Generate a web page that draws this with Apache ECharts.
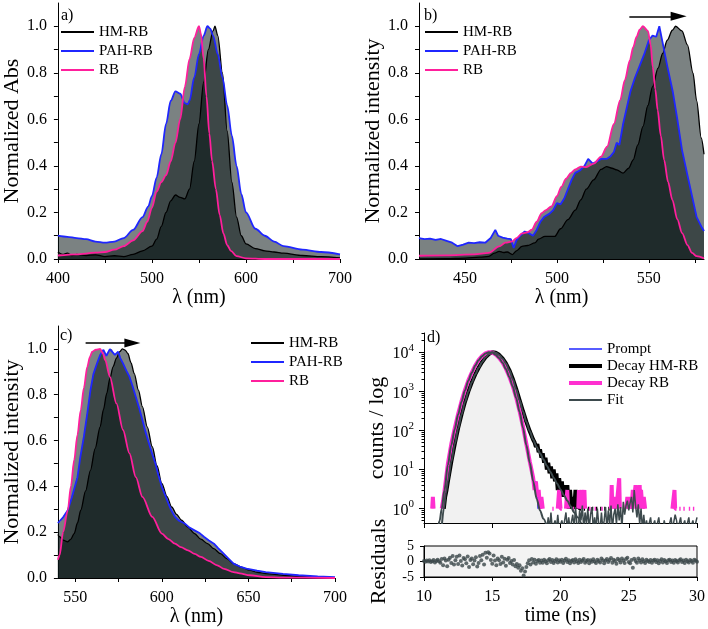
<!DOCTYPE html>
<html>
<head>
<meta charset="utf-8">
<script src="https://cdn.jsdelivr.net/npm/echarts@6/dist/echarts.min.js"></script>
<style>html,body{margin:0;padding:0;background:#fff}#c{width:708px;height:629px}</style>
</head>
<body>
<div id="c"></div>
<script>
// ---------- Panel a: normalized absorbance ----------
const absHM = [[400,0.03],[405,0.02],[410,0.025],[415,0.015],[420,0.02],[430,0.015],[440,0.018],[450,0.01],[460,0.014],[470,0.01],[480,0.02],[490,0.035],[500,0.055],[505,0.085],[510,0.14],[515,0.2],[520,0.25],[525,0.275],[530,0.265],[535,0.258],[540,0.3],[545,0.42],[550,0.58],[555,0.76],[560,0.9],[565,0.98],[567,1.0],[570,0.96],[575,0.8],[580,0.55],[585,0.33],[590,0.18],[595,0.1],[600,0.065],[610,0.045],[620,0.035],[630,0.03],[640,0.025],[660,0.015],[680,0.01],[700,0.005]];
const absPAH = [[400,0.1],[410,0.095],[420,0.09],[430,0.085],[440,0.075],[450,0.07],[460,0.075],[470,0.09],[480,0.125],[490,0.18],[496,0.225],[500,0.27],[505,0.35],[510,0.45],[515,0.58],[520,0.68],[525,0.72],[530,0.71],[535,0.67],[538,0.665],[540,0.68],[545,0.78],[550,0.88],[555,0.96],[559,1.0],[562,0.99],[565,0.96],[570,0.88],[575,0.78],[580,0.66],[585,0.53],[590,0.4],[595,0.28],[600,0.2],[610,0.13],[620,0.1],[630,0.075],[640,0.055],[660,0.04],[680,0.03],[700,0.02]];
const absRB = [[400,0.015],[420,0.02],[440,0.027],[450,0.03],[460,0.04],[470,0.055],[480,0.08],[490,0.12],[495,0.16],[500,0.22],[505,0.29],[510,0.33],[515,0.36],[520,0.42],[525,0.5],[530,0.6],[535,0.74],[540,0.86],[545,0.95],[550,1.0],[552,0.97],[555,0.86],[558,0.7],[561,0.54],[564,0.42],[568,0.3],[572,0.19],[576,0.11],[580,0.06],[584,0.035],[590,0.012],[600,0.003],[620,0.0],[650,0.0],[700,0.0]];

// ---------- Panel b: emission ----------
const emB_HM = [[425,0.0],[440,0.002],[450,0.004],[458,0.008],[463,0.011],[466,0.025],[468.6,0.033],[471,0.028],[473,0.03],[475.8,0.019],[478,0.035],[481,0.054],[484,0.058],[488,0.069],[490,0.085],[493.5,0.097],[498.8,0.097],[502,0.13],[506,0.169],[510,0.21],[513,0.254],[516,0.3],[520,0.34],[524,0.385],[527,0.397],[530,0.39],[532.6,0.383],[536,0.369],[539,0.39],[541.5,0.426],[544,0.49],[546.8,0.569],[549.5,0.66],[552,0.74],[555,0.82],[557.5,0.883],[560,0.94],[562.8,0.983],[564.6,1.0],[568,0.98],[571,0.92],[574,0.8],[576,0.68],[578.5,0.52],[580,0.45]];
const emB_PAH = [[425,0.09],[428,0.085],[431,0.088],[434,0.082],[437,0.086],[440,0.078],[443,0.07],[446,0.055],[449,0.062],[452,0.07],[455,0.068],[458,0.072],[461,0.07],[464,0.09],[466.5,0.125],[468,0.1],[470.5,0.092],[473,0.088],[475,0.085],[476.5,0.047],[478,0.08],[480,0.1],[482.5,0.118],[485,0.11],[487,0.1],[489,0.125],[491,0.16],[493,0.18],[496,0.195],[498,0.21],[500,0.24],[502,0.235],[504,0.26],[506,0.3],[508,0.34],[510,0.37],[512.5,0.38],[515,0.4],[517,0.43],[519.5,0.41],[522,0.42],[524,0.43],[527,0.43],[529,0.44],[531,0.46],[532.5,0.5],[534,0.49],[536,0.58],[538,0.65],[540,0.72],[542.5,0.78],[545,0.83],[547.5,0.88],[550,0.94],[552,0.96],[554,0.955],[555.7,1.0],[557.5,0.93],[560,0.83],[563,0.72],[565.5,0.6],[568,0.47],[571,0.36],[573.5,0.27],[576,0.18],[578.5,0.14],[580,0.12]];
const emB_RB = [[425,0.014],[440,0.016],[455,0.02],[463,0.026],[468.6,0.054],[472,0.07],[475.8,0.076],[478,0.09],[481,0.11],[484,0.115],[486.4,0.126],[489,0.16],[491.7,0.197],[494,0.21],[497,0.226],[500,0.27],[502.4,0.31],[505,0.345],[507.7,0.37],[510,0.385],[513,0.397],[516,0.395],[520,0.41],[524,0.44],[527.3,0.483],[531,0.58],[534.4,0.683],[537,0.77],[539.7,0.854],[541.5,0.91],[543.3,0.954],[545,0.985],[546.8,1.0],[549.5,0.98],[551,0.92],[552.1,0.826],[553.5,0.73],[554.8,0.64],[556.5,0.53],[558.3,0.426],[560.5,0.33],[562.8,0.254],[565.5,0.17],[568.1,0.111],[571,0.06],[573.5,0.026],[576,0.012],[580,0.003]];

// ---------- Panel c: emission ----------
const emC_HM = [[540,0.19],[541,0.18],[543,0.165],[545.7,0.158],[547.5,0.17],[549.4,0.194],[551.3,0.24],[553.2,0.296],[556,0.38],[558.8,0.47],[561.5,0.565],[564.4,0.66],[566.3,0.735],[568.2,0.806],[570,0.87],[571.9,0.923],[573.8,0.96],[575.7,0.988],[577.2,1.0],[578.8,0.995],[580.4,0.98],[582.2,0.94],[584.1,0.892],[586.5,0.82],[588.8,0.748],[591.6,0.66],[594.5,0.573],[597.2,0.49],[600,0.413],[603,0.355],[605.7,0.31],[608.5,0.278],[611.4,0.252],[615,0.222],[618.9,0.194],[622.5,0.17],[626.4,0.15],[630,0.128],[633.9,0.106],[637.5,0.085],[641.4,0.063],[646,0.047],[650.7,0.034],[655,0.025],[660,0.019],[670,0.012],[680,0.007],[690,0.003],[700,0.0]];
const emC_PAH = [[540,0.24],[541,0.245],[543,0.265],[545.7,0.296],[548,0.35],[551.3,0.44],[553,0.53],[555,0.617],[557,0.72],[558.8,0.82],[560.5,0.89],[562.6,0.937],[564.5,0.975],[566.3,0.996],[568,0.97],[570,0.999],[571,1.0],[572.9,0.974],[574.8,0.988],[576,0.96],[577.6,0.937],[579.5,0.905],[581.3,0.879],[583,0.84],[585,0.79],[587,0.74],[588.8,0.69],[590.5,0.64],[592.6,0.587],[594.5,0.54],[596.3,0.5],[598,0.45],[600,0.398],[602,0.36],[603.8,0.325],[605.5,0.295],[607.6,0.267],[610,0.25],[613.2,0.238],[616,0.22],[618.9,0.208],[622,0.195],[624.5,0.179],[627,0.165],[630.1,0.15],[632.5,0.13],[635.7,0.106],[638.5,0.085],[641.4,0.063],[645,0.05],[648.9,0.041],[655,0.032],[660,0.026],[670,0.018],[679,0.012],[690,0.007],[700,0.004]];
const emC_RB = [[540,0.08],[541,0.1],[543,0.2],[545.7,0.296],[547.5,0.4],[549.4,0.515],[551.3,0.625],[553.2,0.733],[555,0.83],[557,0.923],[558.5,0.965],[559.8,0.988],[562,0.997],[564.4,1.0],[566,0.98],[567.3,0.952],[570,0.879],[573.8,0.762],[577.6,0.646],[581.3,0.544],[585,0.44],[588.8,0.354],[594.5,0.267],[600,0.194],[603.8,0.17],[607.6,0.15],[611,0.135],[615.1,0.121],[619,0.105],[622.6,0.092],[627,0.075],[632,0.055],[636,0.04],[641.4,0.026],[645,0.02],[650.7,0.012],[660,0.004],[670,0.002],[700,0.0]];

// ---------- Panel d: decay (counts, log) ----------
const prompt = [[11.35,1],[11.45,2],[11.55,4],[11.75,14],[12.0,42],[12.25,105],[12.5,250],[12.75,540],[13.0,1030],[13.25,1850],[13.5,2950],[13.75,4500],[14.0,6250],[14.25,7900],[14.5,9250],[14.75,10000],[15.0,9750],[15.25,8600],[15.5,7050],[15.75,5350],[16.0,3650],[16.25,2280],[16.5,1300],[16.75,660],[17.0,290],[17.25,115],[17.5,42],[17.75,16],[17.9,9],[18.0,6],[18.1,4],[18.2,5],[18.25,2],[18.3,4],[18.35,1],[18.4,3],[18.45,1],[18.5,2],[18.55,1],[18.6,null],[25.2,1],[25.25,3],[25.3,1]];
const decayHM = [[11.45,1],[11.55,2],[11.65,3],[11.75,5],[12.0,16],[12.25,45],[12.5,115],[12.75,260],[13.0,540],[13.25,1000],[13.5,1700],[13.75,2700],[14.0,4000],[14.25,5600],[14.5,7400],[14.75,9000],[15.0,10000],[15.25,9700],[15.5,8600],[15.75,7000],[16.0,5200],[16.25,3500],[16.5,2100],[16.75,1150],[17.0,600],[17.25,310],[17.5,165],[17.75,95],[18.0,58],[18.1,50],[18.2,38],[18.3,45],[18.4,28],[18.5,33],[18.6,20],[18.7,26],[18.8,15],[18.9,20],[19.0,10],[19.1,15],[19.2,8],[19.3,12],[19.4,6],[19.5,10],[19.6,5],[19.7,8],[19.8,3],[19.9,6],[20.0,3],[20.1,5],[20.2,2],[20.3,4],[20.4,2],[20.5,4],[20.6,1],[20.7,3],[20.8,1],[20.9,2],[21.0,1],[21.1,3],[21.2,1],[21.3,2],[21.4,1],[21.5,1],[21.6,null],[21.7,1],[21.8,1],[21.85,null],[22.0,1],[22.1,1],[22.15,null],[22.3,1],[22.4,1],[22.45,null],[22.6,1],[22.7,1],[22.75,null],[22.9,1],[23.0,1],[23.05,null],[23.2,1],[23.3,1],[23.35,null],[23.5,1],[23.6,1]];
const decayRB = [[10.6,1],[10.65,2],[10.7,1],[10.75,null],[11.3,1],[11.4,1.6],[11.5,2.8],[11.75,14],[12.0,45],[12.25,112],[12.5,263],[12.75,560],[13.0,1070],[13.25,1900],[13.5,3000],[13.75,4570],[14.0,6300],[14.25,7950],[14.5,9300],[14.75,10000],[15.0,9800],[15.25,8700],[15.5,7200],[15.75,5500],[16.0,3800],[16.25,2400],[16.5,1380],[16.75,710],[17.0,316],[17.25,126],[17.5,45],[17.75,16],[17.9,9],[18.0,6],[18.1,3],[18.2,5],[18.3,2],[18.4,3],[18.5,1],[18.6,2],[18.7,1],[18.8,null],[19.4,1],[19.5,1],[19.6,null],[19.8,1],[19.9,3],[20.0,1],[20.1,1],[20.2,null],[20.4,1],[20.5,3],[20.55,1],[20.6,1],[20.7,null],[20.9,1],[21.0,1],[21.1,null],[21.3,1],[21.35,3],[21.4,1],[21.5,1],[21.55,3],[21.6,1],[21.7,1],[21.75,3],[21.8,1],[21.9,null],[22.1,1],[22.2,1],[22.3,null],[22.5,1],[22.6,1],[22.7,null],[23.0,1],[23.1,1],[23.2,null],[23.7,1],[23.75,4],[23.8,1],[23.9,1],[24.0,2],[24.1,1],[24.2,1],[24.3,6],[24.35,1],[24.4,1],[24.5,null],[24.8,1],[24.9,2],[25.0,1],[25.1,2],[25.2,1],[25.3,3],[25.4,2],[25.5,4],[25.55,1],[25.6,2],[25.7,1],[25.8,4],[25.85,1],[25.9,3],[26.0,1],[26.1,2],[26.2,1],[26.3,null],[28.2,1],[28.3,1],[28.35,3],[28.4,1],[28.5,1],[28.6,null],[28.7,1],[28.8,1],[28.9,null],[29.0,1],[29.1,1],[29.2,null],[29.4,1],[29.5,1],[29.6,null],[29.7,1],[29.8,1]];
const fitRB = [[11.0,0.3],[11.15,0.5],[11.3,1],[11.5,3],[11.75,13],[12.0,42],[12.25,108],[12.5,255],[12.75,545],[13.0,1050],[13.25,1870],[13.5,2970],[13.75,4520],[14.0,6270],[14.25,7920],[14.5,9270],[14.75,9980],[15.0,9770],[15.25,8650],[15.5,7100],[15.75,5400],[16.0,3700],[16.25,2320],[16.5,1330],[16.75,680],[17.0,300],[17.25,118],[17.5,42],[17.75,15],[18.0,5],[18.25,1.8],[18.5,0.9],[18.75,0.55],[19.0,0.35]];
const fitHM = [[11.3,0.35],[11.45,1],[11.6,2.5],[11.75,5],[12.0,16],[12.25,45],[12.5,112],[12.75,255],[13.0,530],[13.25,990],[13.5,1690],[13.75,2680],[14.0,3980],[14.25,5580],[14.5,7380],[14.75,8980],[15.0,9950],[15.25,9650],[15.5,8550],[15.75,6950],[16.0,5150],[16.25,3450],[16.5,2070],[16.75,1130],[17.0,590],[17.25,305],[17.5,165],[17.75,95],[18.0,58],[18.25,38],[18.5,26],[18.75,18],[19.0,12.5],[19.25,8.8],[19.5,6.2],[19.75,4.4],[20.0,3.1],[20.25,2.2],[20.5,1.6],[20.75,1.15],[21.0,0.8],[21.25,0.6],[21.5,0.42]];
// baseline noise of the fit, one channel every 0.1 ns starting at 19.0 ns
const fitNoiseStart = 19.0, fitNoiseStep = 0.1;
const fitNoise = [0.3,0.6,0.3,0.8,0.3,0.3,0.5,0.3,0.7,0.3, 0.3,0.5,0.3,0.3,0.8,0.3,0.6,0.3,0.3,0.7, 0.3,1.1,0.4,0.3,0.9,0.5,1.2,0.3,0.8,0.4, 1.0,0.3,0.7,1.1,0.3,0.6,0.3,1.0,0.4,0.3, 0.8,0.3,0.5,1.1,0.3,0.9,0.4,1.2,0.3,0.7, 1.0,0.4,1.3,0.5,1.1,0.3,1.5,0.7,1.2,1.6, 0.9,1.4,2.0,0.8,3.0,1.2,0.6,1.3,0.4,1.0, 0.3,0.7,0.3,0.5,0.3,0.3,0.6,0.3,0.3,0.5, 0.3,0.3,0.6,0.3,0.3,0.3,0.5,0.3,0.3,0.3, 0.3,0.6,0.3,0.3,0.7,0.5,0.3,0.3,0.6,0.3, 0.3,0.5,0.3,0.3,0.6,0.3,0.3,0.5,0.3,0.3, 0.6];
// residuals, one channel every 0.1 ns starting at 10 ns
const residStart = 10.0, residStep = 0.1;
const residuals = [0.2,-0.1,0.3,0,0.4,-0.2,0.1,0.5,-0.3,0.2,0.6,0.1,-0.4,
 0.8,-1.2,1.0,0.3,-1.5,0.6,1.2,-0.5,1.8,-1.0,0.4,1.5,-0.8,1.9,0.2,-1.3,1.1,0.7,-0.6,1.6,-1.8,0.5,1.0,-0.9,0.3,1.4,-1.6,
 -0.5,1.8,0.4,2.2,-1.0,2.8,1.2,3.0,2.6,0.5,-0.7,1.9,0.3,
 -1.2,1.0,0.4,-0.8,1.5,-0.3,0.9,-1.4,0.6,1.1,-0.5,0.2,-1.0,
 0.5,-1.5,-0.8,-2.0,-1.2,-3.0,-2.2,-4.5,-3.2,-1.8,-0.6,
 0.4,-1.0,0.8,-0.3,0.6,-0.7,0.2,0.5,-0.4,
 0.3,-0.4,0.6,0.1,-0.6,0.4,0.8,-0.2,0.5,-0.5,0.2,0.7,-0.3,0.4,-0.1,0.6,-0.5,0.3,0.9,-0.2,
 0.4,-0.6,0.2,0.5,-0.3,0.7,0.1,-0.5,0.6,-0.2,0.3,0.8,-0.4,0.2,0.5,-0.6,0.4,-0.1,0.7,0.0,
 -0.5,0.6,0.2,-0.3,1.0,0.4,-0.6,0.3,0.8,-0.2,0.5,1.1,-0.4,0.6,0.2,-0.7,0.9,0.4,-0.3,1.0,
 0.3,-0.5,0.8,1.2,-0.2,-0.6,0.5,-2.0,0.9,0.2,-0.4,1.0,0.3,-0.3,0.7,0.1,-0.5,0.6,0.2,-0.2,
 0.5,-0.4,0.3,0.6,-0.2,0.4,-0.6,0.2,0.7,-0.3,0.5,0.1,-0.5,0.4,0.6,-0.2,0.3,-0.4,0.5,0.2,
 -0.3,0.4,0.7,-0.2,0.3,-0.5,0.6,0.1,-0.3,0.5,0.2,-0.4,0.6,0.3,-0.1];

// ---------- ticks and labels ----------
const aTicksX = [400,450,500,550,600,650,700], aLabelsX = [400,500,600,700];
const bTicksX = [450,475,500,525,550,575], bLabelsX = [450,500,550];
const cTicksX = [550,575,600,625,650,675,700], cLabelsX = [550,600,650,700];
const normTicks = [0,0.1,0.2,0.3,0.4,0.5,0.6,0.7,0.8,0.9,1.0];
const normLabels = [0,0.2,0.4,0.6,0.8,1.0];
const dTicksX = [10,15,20,25,30];
const logMajor = [1,10,100,1000,10000];
const logMinor = [0.5,0.6,0.7,0.8,0.9,2,3,4,5,6,7,8,9,20,30,40,50,60,70,80,90,200,300,400,500,600,700,800,900,2000,3000,4000,5000,6000,7000,8000,9000,20000,30000];
const resTicks = [-5,0,5];

// arrows (data coordinates)
const arrowB = [[539.4,1.043],[566.2,1.043]];
const arrowC = [[556,1.026],[583,1.026]];

// ---------- build ----------
const FONT = 'Liberation Serif';
const FILL = 'rgba(5,18,18,0.53)';
const C_HM = '#000000', C_PAH = '#1f26ff', C_RB = '#ff1f9c';
const C_RBd = '#ff2fd0', C_FIT = '#3d4a4d';
const toData = arr => arr.map(p => [p[0], p[1] === null ? '-' : p[1]]);

function xAxis(grid, min, max, ticks, labels, name, gap, showLabels) {
  return {
    type: 'value', gridIndex: grid, min, max,
    axisLine: {onZero: false, lineStyle: {color: '#000', width: 1}},
    axisTick: {customValues: ticks, length: 4, lineStyle: {color: '#000'}},
    axisLabel: {show: showLabels !== false, customValues: labels, margin: 12, fontFamily: FONT, fontSize: 16, color: '#000'},
    splitLine: {show: false},
    name, nameLocation: 'middle', nameGap: gap,
    nameTextStyle: {fontFamily: FONT, fontSize: 20, color: '#000'}
  };
}
function yNorm(grid, name, gap) {
  return {
    type: 'value', gridIndex: grid, min: 0, max: 1.1,
    axisLine: {show: true, lineStyle: {color: '#000', width: 1}},
    axisTick: {show: true, customValues: normTicks, length: 4, lineStyle: {color: '#000'}},
    axisLabel: {customValues: normLabels, margin: 11, fontFamily: FONT, fontSize: 16, color: '#000',
      formatter: v => v.toFixed(1)},
    splitLine: {show: false},
    name, nameLocation: 'middle', nameGap: gap,
    nameTextStyle: {fontFamily: FONT, fontSize: 22, color: '#000'}
  };
}
function fill(name, data, ax) {
  return {type: 'line', name, data, xAxisIndex: ax, yAxisIndex: ax, symbol: 'none', smooth: 0.3, smoothMonotone: 'x',
    lineStyle: {width: 0}, areaStyle: {color: FILL, opacity: 1, origin: 'start'}, silent: true, z: 1};
}
function line(name, data, ax, color, width, smooth, extra) {
  return Object.assign({type: 'line', name, data, xAxisIndex: ax, yAxisIndex: ax, symbol: 'none', showSymbol: false,
    smooth: smooth, smoothMonotone: 'x', itemStyle: {color}, lineStyle: {color, width}, z: 3, silent: true}, extra || {});
}
function arrowML(pts) {
  return {markLine: {silent: true, animation: false, label: {show: false},
    lineStyle: {color: '#000', width: 1.5, type: 'solid'},
    data: [[{coord: pts[0], symbol: 'none'}, {coord: pts[1], symbol: 'triangle', symbolSize: [9, 16]}]]}};
}

const legendBase = {orient: 'vertical', padding: 0, itemWidth: 33, itemHeight: 12, itemGap: 3,
  itemStyle: {opacity: 0},
  textStyle: {fontFamily: FONT, fontSize: 15, color: '#000', lineHeight: 16}, selectedMode: false};

const option = {
  animation: false,
  grid: [
    {left: 55, top: 3, width: 285, height: 256},
    {left: 419, top: 3, width: 285, height: 256},
    {left: 55, top: 326, width: 280, height: 252},
    {left: 424, top: 333, width: 273, height: 190},
    {left: 424, top: 546, width: 273, height: 31, show: true, backgroundColor: '#f3f3f3', borderColor: '#000', borderWidth: 1}
  ],
  xAxis: [
    xAxis(0, 400, 700, aTicksX, aLabelsX, 'λ (nm)', 22),
    xAxis(1, 425, 580, bTicksX, bLabelsX, 'λ (nm)', 22),
    xAxis(2, 540, 700, cTicksX, cLabelsX, 'λ (nm)', 29),
    Object.assign(xAxis(3, 10, 30, dTicksX, dTicksX, '', 0, false), {axisTick: {customValues: dTicksX, length: 5, lineStyle: {color: '#000'}}}),
    xAxis(4, 10, 30, dTicksX, dTicksX, 'time (ns)', 27)
  ],
  yAxis: [
    yNorm(0, 'Normalized Abs', 31),
    yNorm(1, 'Normalized intensity', 34),
    yNorm(2, 'Normalized intensity', 31),
    {type: 'log', gridIndex: 3, min: 0.43, max: 31000, logBase: 10, position: 'left',
      axisLine: {show: true, lineStyle: {color: '#000'}},
      axisTick: {customValues: logMajor, length: 5, lineStyle: {color: '#000'}},
      axisLabel: {customValues: logMajor, margin: 10, color: '#000', fontFamily: FONT,
        formatter: v => '{b|10}{s|' + Math.round(Math.log10(v)) + '}',
        rich: {b: {fontFamily: FONT, fontSize: 16, color: '#000', verticalAlign: 'bottom', lineHeight: 20},
               s: {fontFamily: FONT, fontSize: 11, color: '#000', verticalAlign: 'top', lineHeight: 20}}},
      splitLine: {show: false},
      name: 'counts / log', nameLocation: 'middle', nameGap: 34,
      nameTextStyle: {fontFamily: FONT, fontSize: 22, color: '#000'}},
    {type: 'value', gridIndex: 4, min: -5, max: 5,
      axisLine: {show: true, lineStyle: {color: '#000'}},
      axisTick: {customValues: resTicks, length: 4, lineStyle: {color: '#000'}},
      axisLabel: {customValues: resTicks, showMinLabel: true, showMaxLabel: true, hideOverlap: false,
        margin: 10, fontFamily: FONT, fontSize: 14, color: '#000'},
      splitLine: {show: false},
      name: 'Residuals', nameLocation: 'middle', nameGap: 34,
      nameTextStyle: {fontFamily: FONT, fontSize: 22, color: '#000'}},
    {type: 'log', gridIndex: 3, min: 0.43, max: 31000, logBase: 10, position: 'left', offset: 0,
      axisLine: {show: false}, axisLabel: {show: false},
      axisTick: {customValues: logMinor, length: 2.5, lineStyle: {color: '#000'}},
      splitLine: {show: false}}
  ],
  legend: [
    Object.assign({}, legendBase, {left: 60, top: 24, data: ['HM-RB', 'PAH-RB', 'RB']}),
    Object.assign({}, legendBase, {left: 424, top: 24, data: ['HM-RB', 'PAH-RB', 'RB']}),
    Object.assign({}, legendBase, {left: 250, top: 335, data: ['HM-RB', 'PAH-RB', 'RB']}),
    Object.assign({}, legendBase, {left: 567, top: 341, itemGap: 1, data: [
      {name: 'Prompt', lineStyle: {width: 1.5}},
      {name: 'Decay HM-RB', lineStyle: {width: 4}},
      {name: 'Decay RB', lineStyle: {width: 4}},
      {name: 'Fit', lineStyle: {width: 2}}]})
  ],
  graphic: [
    {type: 'text', left: 61, top: 8, style: {text: 'a)', font: '16px "Liberation Serif"', fill: '#000'}},
    {type: 'text', left: 424, top: 8, style: {text: 'b)', font: '16px "Liberation Serif"', fill: '#000'}},
    {type: 'text', left: 60, top: 328, style: {text: 'c)', font: '16px "Liberation Serif"', fill: '#000'}},
    {type: 'text', left: 427, top: 330, style: {text: 'd)', font: '16px "Liberation Serif"', fill: '#000'}}
  ],
  series: [
    // panel a
    fill('fa1', absHM, 0), fill('fa2', absPAH, 0), fill('fa3', absRB, 0),
    line('HM-RB', absHM, 0, C_HM, 1.3, 0.3),
    line('PAH-RB', absPAH, 0, C_PAH, 1.8, 0.3),
    line('RB', absRB, 0, C_RB, 1.8, 0.3),
    // panel b
    fill('fb1', emB_HM, 1), Object.assign(fill('fb2', emB_PAH, 1), {smooth: false}), fill('fb3', emB_RB, 1),
    line('HM-RB', emB_HM, 1, C_HM, 1.3, 0.3, arrowML(arrowB)),
    line('PAH-RB', emB_PAH, 1, C_PAH, 1.8, false),
    line('RB', emB_RB, 1, C_RB, 1.8, 0.3),
    // panel c
    fill('fc1', emC_HM, 2), fill('fc2', emC_PAH, 2), fill('fc3', emC_RB, 2),
    line('HM-RB', emC_HM, 2, C_HM, 1.3, 0.3, arrowML(arrowC)),
    line('PAH-RB', emC_PAH, 2, C_PAH, 1.8, false),
    line('RB', emC_RB, 2, C_RB, 1.8, 0.3),
    // panel d
    {type: 'line', name: 'promptFill', data: toData(fitRB), xAxisIndex: 3, yAxisIndex: 3, symbol: 'none',
      lineStyle: {width: 0}, areaStyle: {color: '#f1f1f1', opacity: 1, origin: 'start'}, silent: true, z: 1},
    line('Prompt', toData(prompt), 3, C_PAH, 1.3, false),
    line('Decay HM-RB', toData(decayHM), 3, C_HM, 4, false),
    line('Decay RB', toData(decayRB), 3, C_RBd, 4, false),
    line('Fit', toData(fitRB), 3, C_FIT, 2, 0.3),
    line('Fit', toData(fitHM), 3, C_FIT, 2, 0.3),
    line('Fit', fitNoise.map((v, i) => [+(fitNoiseStart + fitNoiseStep * i).toFixed(2), v]), 3, C_FIT, 1.5, false),
    {type: 'scatter', name: 'resid', xAxisIndex: 4, yAxisIndex: 4, symbolSize: 4, silent: true,
      itemStyle: {color: '#3a4648'},
      data: residuals.map((v, i) => [+(residStart + residStep * i).toFixed(2), v])}
  ]
};
const chart = echarts.init(document.getElementById('c'), null, {renderer: 'canvas'});
chart.setOption(option);
</script>
</body>
</html>
